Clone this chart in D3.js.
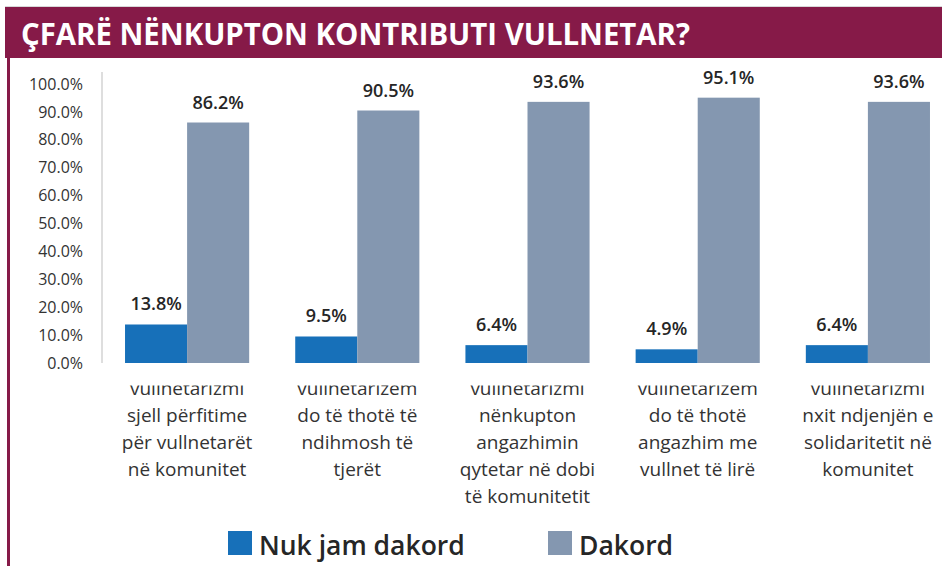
<!DOCTYPE html>
<html><head><meta charset="utf-8">
<script src="https://cdn.jsdelivr.net/npm/d3@7/dist/d3.min.js"></script>
<style>
html,body{margin:0;padding:0;background:#fff;}
svg{display:block;}
</style></head>
<body>
<svg id="chart" width="942" height="566"></svg>
<script>
const title = "ÇFARË NËNKUPTON KONTRIBUTI VULLNETAR?";
const categories = [
  ["vullnetarizmi","sjell përfitime","për vullnetarët","në komunitet"],
  ["vullnetarizem","do të thotë të","ndihmosh të","tjerët"],
  ["vullnetarizmi","nënkupton","angazhimin","qytetar në dobi","të komunitetit"],
  ["vullnetarizem","do të thotë","angazhim me","vullnet të lirë"],
  ["vullnetarizmi","nxit ndjenjën e","solidaritetit në","komunitet"]
];
const seriesNames = ["Nuk jam dakord","Dakord"];
const nukJamDakord = [13.8, 9.5, 6.4, 4.9, 6.4];
const dakord = [86.2, 90.5, 93.6, 95.1, 93.6];
const yTicks = [0,10,20,30,40,50,60,70,80,90,100];
const colors = ["#1770b9","#8497b0"];

const svg = d3.select("#chart");
const maroon = "#861a48";

// title band
svg.append("rect").attr("x",5).attr("y",7).attr("width",937).attr("height",51).attr("fill",maroon);
svg.append("line").attr("x1",5).attr("x2",942).attr("y1",6.5).attr("y2",6.5).attr("stroke","#d8d8d8");
svg.append("rect").attr("x",7).attr("y",58).attr("width",3).attr("height",508).attr("fill",maroon);
svg.append("text").attr("x",21).attr("y",45).text(title)
  .attr("fill","#fff").attr("font-family","'Open Sans'").attr("font-weight",700)
  .attr("font-size",30).attr("textLength",669).attr("lengthAdjust","spacingAndGlyphs");

const x0 = d3.scaleBand().domain(d3.range(categories.length)).range([102,953]).paddingInner(0).paddingOuter(0);
const x1 = d3.scaleBand().domain([0,1]).range([0,x0.bandwidth()]).paddingOuter(0.371).paddingInner(0);
const y = d3.scaleLinear().domain([0,100]).range([363,84]);

// y axis
const yAxis = d3.axisLeft(y).tickValues(yTicks).tickSize(0).tickPadding(0).tickFormat(d=>d3.format(".1f")(d)+"%");
const ya = svg.append("g").attr("transform","translate(83,0)").call(yAxis);
ya.select(".domain").remove();
ya.selectAll("text").attr("font-family","'Open Sans'").attr("font-size",16).attr("fill","#333");
svg.append("line").attr("x1",102).attr("x2",102).attr("y1",y(100)-12).attr("y2",y(0)).attr("stroke","#d3d3d3").attr("stroke-width",1.5);

const series = [nukJamDakord, dakord];
const g = svg.append("g");
categories.forEach((c,i)=>{
  series.forEach((s,j)=>{
    const bx = x0(i)+x1(j);
    g.append("rect").attr("x",bx).attr("y",y(s[i])).attr("width",x1.bandwidth()).attr("height",y(0)-y(s[i])).attr("fill",colors[j]);
    g.append("text").attr("x",bx+x1.bandwidth()/2).attr("y",y(s[i])-14).attr("text-anchor","middle")
      .attr("font-family","'Open Sans'").attr("font-weight",600).attr("font-size",18).attr("fill","#262626")
      .text(d3.format(".1f")(s[i])+"%");
  });
});

// category labels, clipped at top
svg.append("clipPath").attr("id","lblclip").append("rect").attr("x",0).attr("y",385.5).attr("width",942).attr("height",140);
const lg = svg.append("g").attr("clip-path","url(#lblclip)");
categories.forEach((c,i)=>{
  const t = lg.append("text").attr("text-anchor","middle").attr("font-family","'Open Sans'").attr("font-size",19).attr("fill","#333");
  c.forEach((line,k)=>{
    t.append("tspan").attr("x",x0(i)+x0.bandwidth()/2).attr("y",395+k*27).text(line);
  });
});

// legend
const legendX = [228,548];
seriesNames.forEach((n,j)=>{
  svg.append("rect").attr("x",legendX[j]).attr("y",531).attr("width",24).attr("height",24).attr("fill",colors[j]);
  svg.append("text").attr("x",legendX[j]+31).attr("y",555).text(n).attr("font-family","'Open Sans'")
    .attr("font-weight",600).attr("font-size",26.5).attr("fill","#262626");
});
</script>
</body></html>
